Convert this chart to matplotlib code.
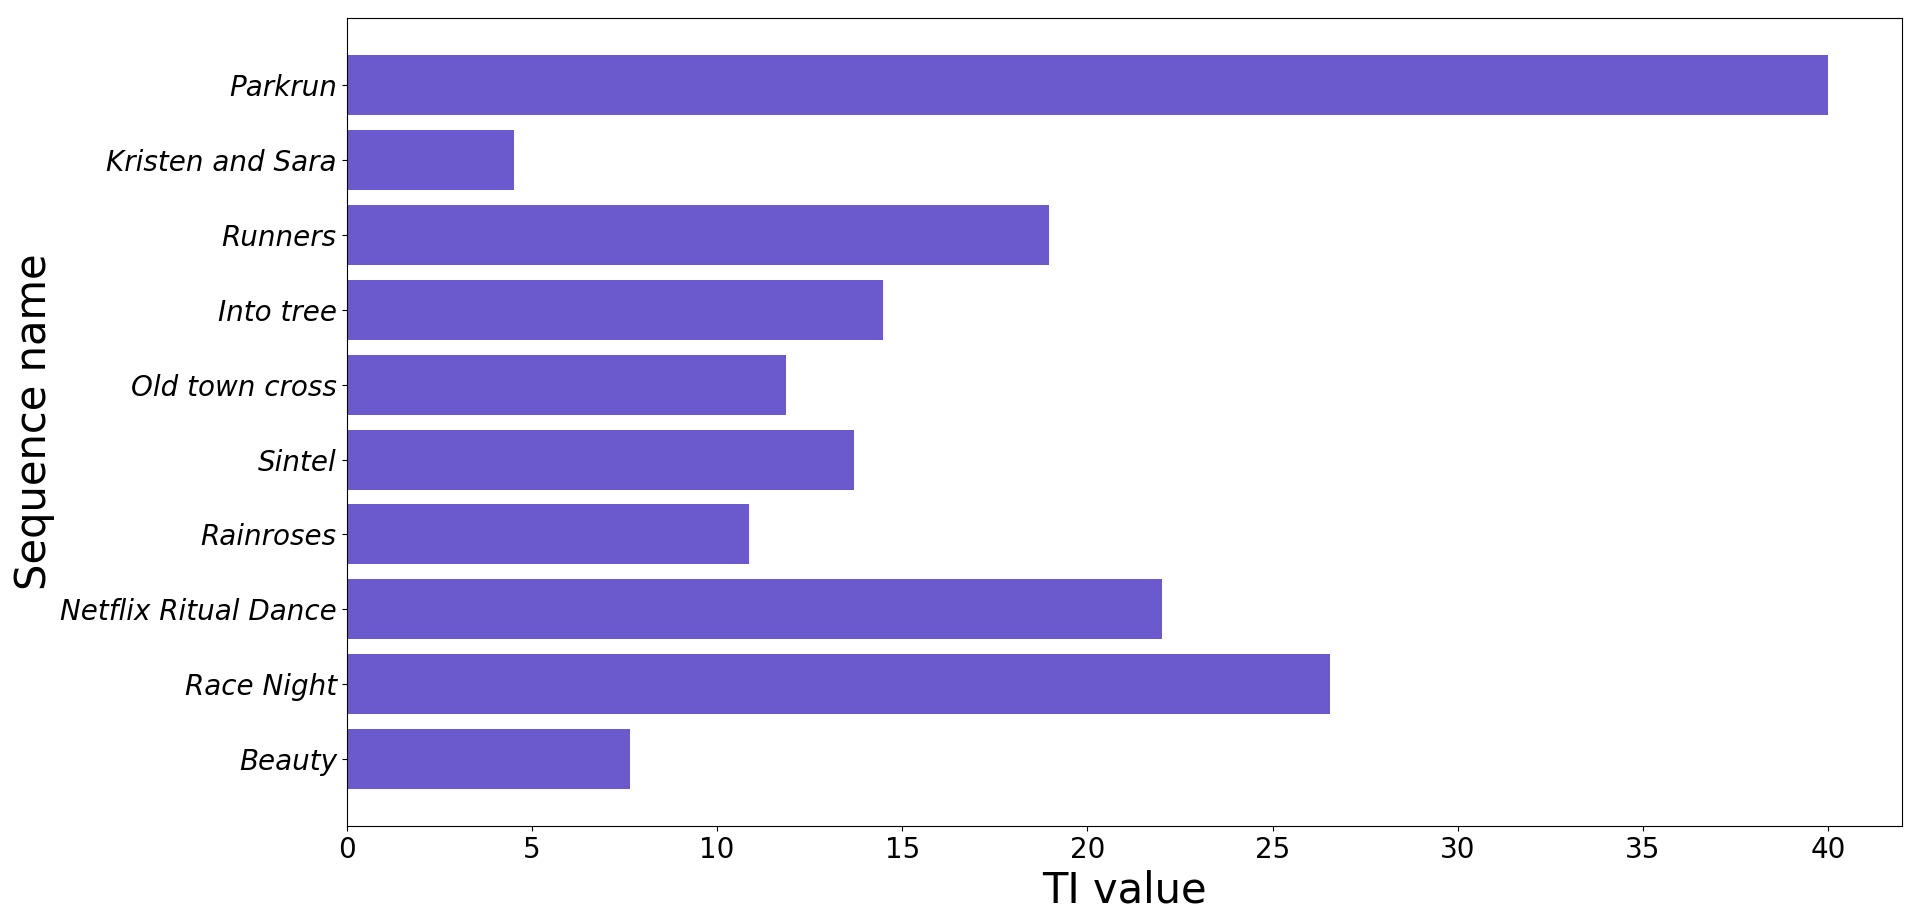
import matplotlib
matplotlib.use("Agg")
import matplotlib.pyplot as plt

sequences = ["Beauty", "Race Night", "Netflix Ritual Dance", "Rainroses", "Sintel",
             "Old town cross", "Into tree", "Runners", "Kristen and Sara", "Parkrun"]
ti_values = [7.64, 26.55, 22.02, 10.86, 13.69, 11.86, 14.48, 18.96, 4.53, 40.0]

fig = plt.figure(figsize=(19.2, 9.23), dpi=100)
ax = fig.add_axes([0.1805, 0.105, 0.9908 - 0.1805, 0.9805 - 0.105])
ax.barh(sequences, ti_values, color="slateblue", height=0.8)
ax.set_xlabel("TI value", fontsize=30)
ax.set_ylabel("Sequence name", fontsize=30)
ax.tick_params(axis="x", labelsize=20)
ax.tick_params(axis="y", labelsize=20)
for lbl in ax.get_yticklabels():
    lbl.set_fontstyle("italic")
fig.savefig("out.png", dpi=100)
